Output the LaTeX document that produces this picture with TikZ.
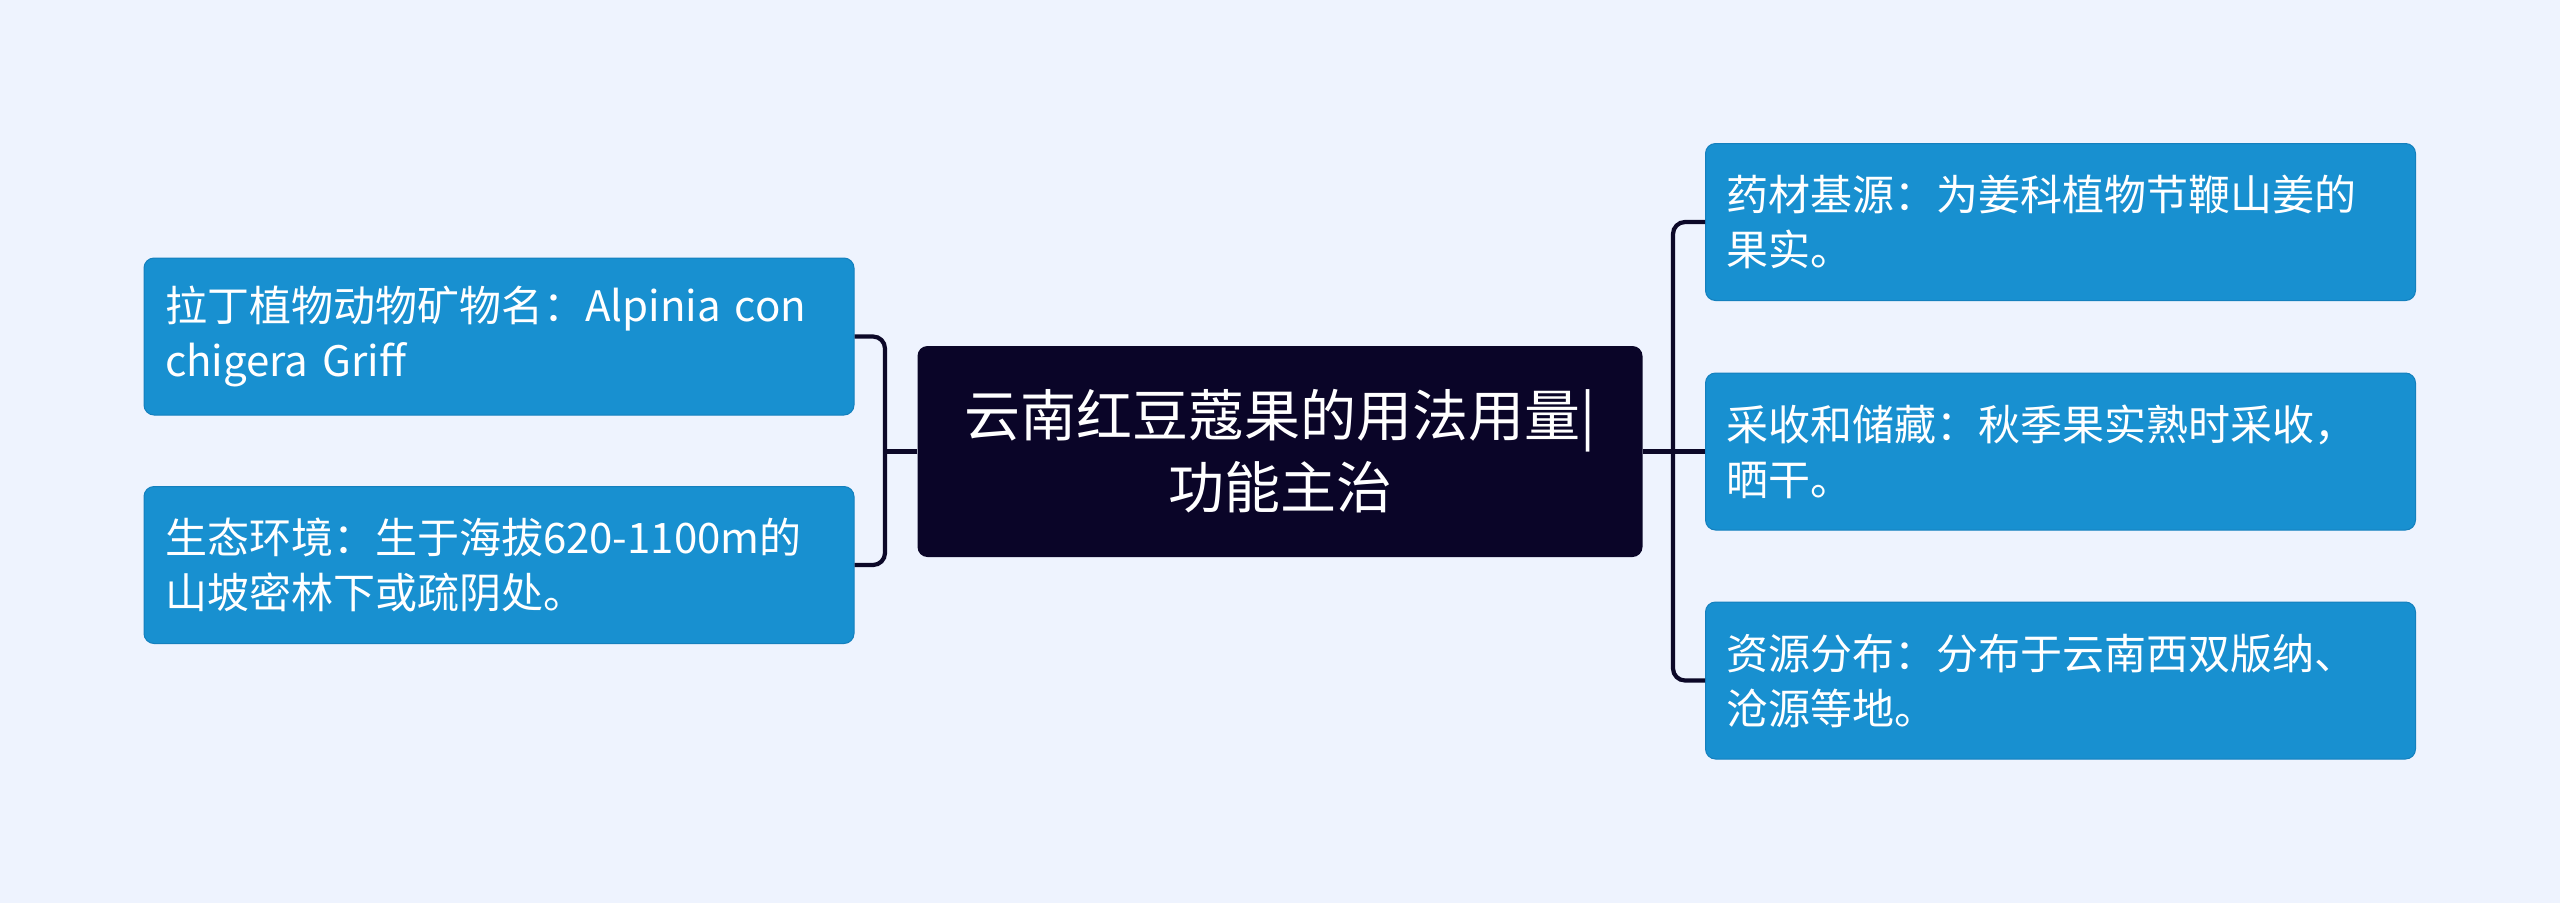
\documentclass[tikz,border=0pt]{standalone}
\usepackage{fontspec}
\setmainfont{Noto Sans CJK SC}
\definecolor{bgc}{RGB}{238,243,254}
\definecolor{leafc}{RGB}{24,144,208}
\definecolor{leafb}{RGB}{20,128,190}
\definecolor{rootc}{RGB}{10,5,40}
\definecolor{linec}{RGB}{12,8,40}
\begin{document}
\begin{tikzpicture}[x=1pt,y=-1pt,
  leaf/.style={fill=leafc,draw=leafb,line width=1pt,rounded corners=10pt,text=white,
    minimum width=710pt,minimum height=157pt,text width=668pt,inner xsep=21pt,
    align=left,font=\fontsize{42}{55}\selectfont},
  root/.style={fill=rootc,rounded corners=10pt,text=white,minimum width=725pt,
    minimum height=211pt,align=center,font=\fontsize{56}{72}\selectfont},
  conn/.style={draw=linec,line width=4.2pt,rounded corners=12pt}]
\fill[bgc] (0,0) rectangle (2560,903);
\useasboundingbox (0,0) rectangle (2560,903);
\node[root] (c) at (1280,451.5) {云南红豆蔻果的用法用量|\\功能主治};
\node[leaf] (l1) at (499,336.5) {拉丁植物动物矿物名：Alpinia con\\chigera Griff};
\node[leaf] (l2) at (499,565) {生态环境：生于海拔620-1100m的\\山坡密林下或疏阴处。};
\node[leaf] (r1) at (2060.5,222) {药材基源：为姜科植物节鞭山姜的\\果实。};
\node[leaf] (r2) at (2060.5,451.5) {采收和储藏：秋季果实熟时采收，\\晒干。};
\node[leaf] (r3) at (2060.5,680.5) {资源分布：分布于云南西双版纳、\\沧源等地。};
\coordinate (lj) at (885,451.5);
\coordinate (rj) at (1673,451.5);
\draw[conn] (c.west) -- (lj);
\draw[conn] (l1.east) -| (lj) |- (l2.east);
\draw[conn] (c.east) -- (r2.west);
\draw[conn] (r1.west) -| (rj) |- (r3.west);
\end{tikzpicture}
\end{document}
